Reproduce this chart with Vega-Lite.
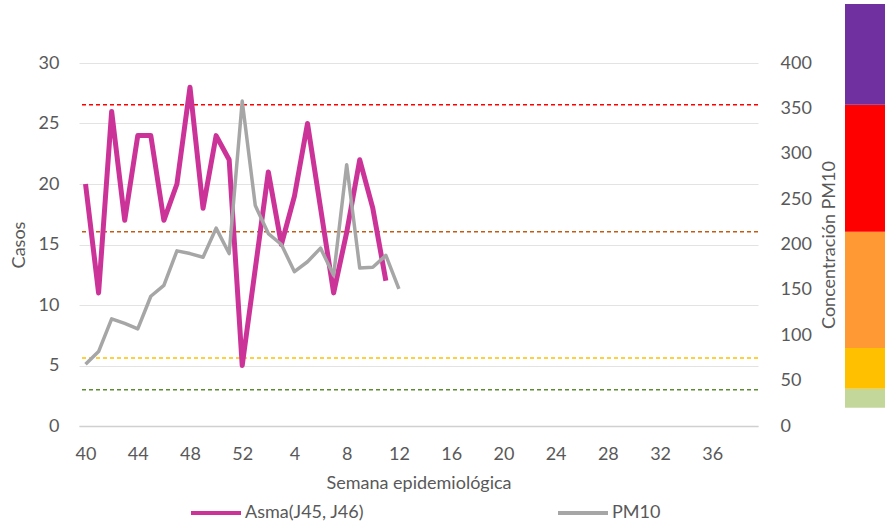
{
  "$schema": "https://vega.github.io/schema/vega-lite/v6.json",
  "padding": {"left": 10, "top": 4, "right": 0, "bottom": 0},
  "autosize": {"type": "pad"},
  "background": "white",
  "config": {
    "view": {"stroke": null},
    "font": "Lato",
    "axis": {"labelFont": "Lato", "titleFont": "Lato", "labelColor": "#595959", "titleColor": "#595959", "labelFontSize": 18, "titleFontSize": 18, "titleFontWeight": "normal"},
    "legend": {"labelFont": "Lato", "labelFontSize": 18, "labelColor": "#595959"}
  },
  "datasets": {
    "semanas": [
      {"semana": "40", "asma": 20, "pm10": 68},
      {"semana": "41", "asma": 11, "pm10": 82},
      {"semana": "42", "asma": 26, "pm10": 118},
      {"semana": "43", "asma": 17, "pm10": 113},
      {"semana": "44", "asma": 24, "pm10": 107},
      {"semana": "45", "asma": 24, "pm10": 143},
      {"semana": "46", "asma": 17, "pm10": 155},
      {"semana": "47", "asma": 20, "pm10": 193},
      {"semana": "48", "asma": 28, "pm10": 190},
      {"semana": "49", "asma": 18, "pm10": 186},
      {"semana": "50", "asma": 24, "pm10": 218},
      {"semana": "51", "asma": 22, "pm10": 190},
      {"semana": "52", "asma": 5, "pm10": 358},
      {"semana": "1", "asma": 13, "pm10": 243},
      {"semana": "2", "asma": 21, "pm10": 212},
      {"semana": "3", "asma": 15, "pm10": 200},
      {"semana": "4", "asma": 19, "pm10": 170},
      {"semana": "5", "asma": 25, "pm10": 181},
      {"semana": "6", "asma": 18, "pm10": 196},
      {"semana": "7", "asma": 11, "pm10": 166},
      {"semana": "8", "asma": 16, "pm10": 288},
      {"semana": "9", "asma": 22, "pm10": 174},
      {"semana": "10", "asma": 18, "pm10": 175},
      {"semana": "11", "asma": 12, "pm10": 188},
      {"semana": "12", "asma": null, "pm10": 151}
    ],
    "umbrales": [
      {"nivel": "Extremadamente mala", "valor": 354},
      {"nivel": "Muy mala", "valor": 214},
      {"nivel": "Mala", "valor": 75},
      {"nivel": "Buena", "valor": 40}
    ],
    "escala": [
      {"nivel": "Buena", "desde": 20, "hasta": 41},
      {"nivel": "Mala", "desde": 80, "hasta": 214},
      {"nivel": "Regular", "desde": 41, "hasta": 86},
      {"nivel": "Muy mala", "desde": 214, "hasta": 354},
      {"nivel": "Extremadamente mala", "desde": 354, "hasta": 465}
    ]
  },
  "bounds": "flush",
  "spacing": 87,
  "hconcat": [
    {
      "width": 679,
      "height": 363,
      "data": {"name": "semanas"},
      "layer": [
        {
          "data": {"name": "umbrales"},
          "mark": {"type": "rule", "strokeDash": [4, 3], "strokeWidth": 1.5},
          "encoding": {
            "y": {"field": "valor", "type": "quantitative", "scale": {"domain": [0, 400], "nice": false}, "axis": null},
            "stroke": {"field": "nivel", "type": "nominal", "scale": {"domain": ["Extremadamente mala", "Muy mala", "Mala", "Buena"], "range": ["#FF0000", "#C55A11", "#FFC000", "#5E8C31"]}, "legend": null}
          }
        },
        {
          "mark": {"type": "line", "strokeWidth": 5, "strokeJoin": "round"},
          "encoding": {
            "x": {
              "field": "semana", "type": "ordinal",
              "sort": ["40","41","42","43","44","45","46","47","48","49","50","51","52","1","2","3","4","5","6","7","8","9","10","11","12","13","14","15","16","17","18","19","20","21","22","23","24","25","26","27","28","29","30","31","32","33","34","35","36","37","38","39"],
              "scale": {"type": "point", "padding": 0.5, "domain": ["40","41","42","43","44","45","46","47","48","49","50","51","52","1","2","3","4","5","6","7","8","9","10","11","12","13","14","15","16","17","18","19","20","21","22","23","24","25","26","27","28","29","30","31","32","33","34","35","36","37","38","39"]},
              "axis": {"values": ["40","44","48","52","4","8","12","16","20","24","28","32","36"], "labelAngle": 0, "ticks": false, "grid": false, "domainColor": "#D0D0D0", "domainWidth": 1.5, "labelPadding": 19, "title": "Semana epidemiológica", "titlePadding": 11}
            },
            "y": {"field": "asma", "type": "quantitative", "scale": {"domain": [0, 30], "nice": false}, "axis": {"orient": "left", "values": [0,5,10,15,20,25,30], "title": "Casos", "grid": true, "gridColor": "#E3E3E3", "domain": false, "ticks": false, "labelPadding": 20, "titlePadding": 10}},
            "color": {"datum": "Asma(J45, J46)", "type": "nominal", "scale": {"domain": ["Asma(J45, J46)", "PM10"], "range": ["#CC3399", "#A6A6A6"]},
              "legend": {"orient": "none", "legendX": 110, "legendY": 423, "direction": "horizontal", "title": null, "symbolType": "stroke", "symbolSize": 2500, "symbolStrokeWidth": 4, "labelOffset": 2, "columnPadding": 185}}
          }
        },
        {
          "mark": {"type": "line", "strokeWidth": 3.5, "strokeJoin": "round"},
          "encoding": {
            "x": {"field": "semana", "type": "ordinal",
              "sort": ["40","41","42","43","44","45","46","47","48","49","50","51","52","1","2","3","4","5","6","7","8","9","10","11","12","13","14","15","16","17","18","19","20","21","22","23","24","25","26","27","28","29","30","31","32","33","34","35","36","37","38","39"]},
            "y": {"field": "pm10", "type": "quantitative", "scale": {"domain": [0, 400], "nice": false}, "axis": {"orient": "right", "values": [0,50,100,150,200,250,300,350,400], "title": "Concentración PM10", "titleAngle": 270, "titleBaseline": "top", "grid": false, "domain": false, "ticks": false, "labelPadding": 22, "titlePadding": 9}},
            "color": {"datum": "PM10", "type": "nominal"}
          }
        }
      ],
      "resolve": {"scale": {"y": "independent"}}
    },
    {
      "width": 40,
      "height": 363,
      "data": {"name": "escala"},
      "mark": {"type": "rect"},
      "encoding": {
        "y": {"field": "desde", "type": "quantitative", "scale": {"domain": [0, 400], "nice": false}, "axis": null},
        "y2": {"field": "hasta"},
        "fill": {"field": "nivel", "type": "nominal", "scale": {"domain": ["Buena", "Regular", "Mala", "Muy mala", "Extremadamente mala"], "range": ["#C4D79B", "#FFC000", "#FF9933", "#FF0000", "#7030A0"]}, "legend": null}
      }
    }
  ]
}
